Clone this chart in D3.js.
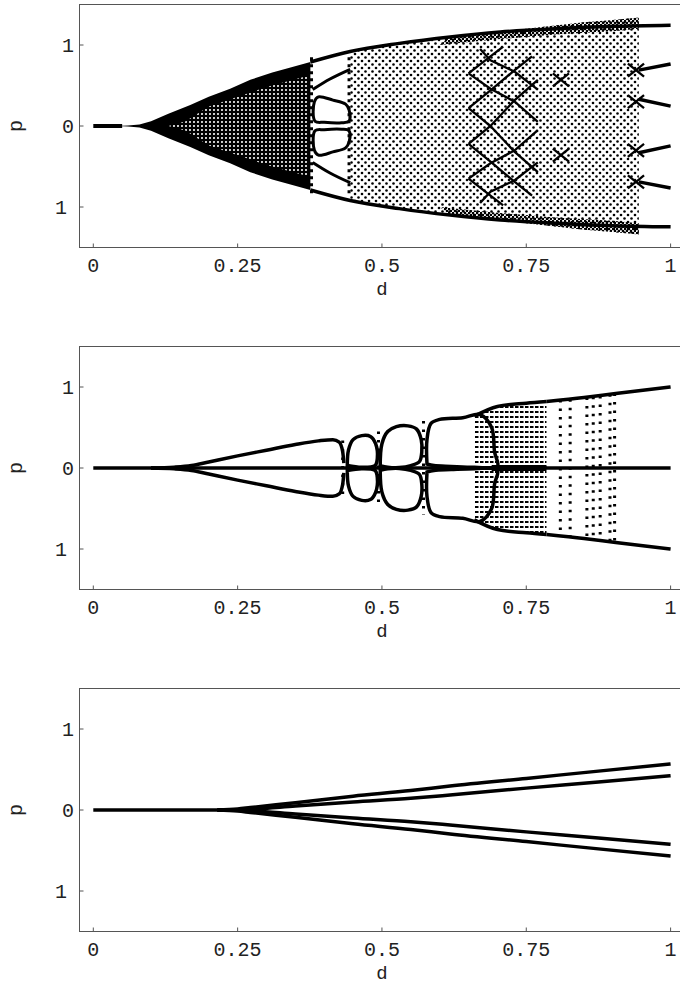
<!DOCTYPE html>
<html><head><meta charset="utf-8">
<script src="https://cdn.jsdelivr.net/npm/d3@7"></script>
<style>body{margin:0;background:#fff}svg{display:block}</style>
</head><body>
<svg id="c" width="680" height="985"></svg>
<script>
// ---------- axis data ----------
const xTicks = [0, 0.25, 0.5, 0.75, 1];
const xTickLabels = ["0", "0.25", "0.5", "0.75", "1"];
const yTicks = [-1, 0, 1];
const yTickLabels = ["1", "0", "1"]; // minus sign is not rendered in the original
const xLabel = "d", yLabel = "p";

// ---------- panel 1 ----------
const p1Stem = [[0, 0], [0.05, 0]];
const p1Env = [[0.04,0],[0.06,0.005],[0.08,0.02],[0.10,0.06],[0.13,0.15],[0.168,0.26],[0.20,0.36],[0.237,0.46],[0.272,0.57],[0.31,0.66],[0.34,0.72],[0.376,0.79],[0.41,0.86],[0.445,0.92],[0.49,0.97],[0.53,1.02],[0.575,1.06],[0.618,1.10],[0.66,1.13],[0.705,1.16],[0.75,1.2],[0.80,1.24],[0.85,1.28],[0.90,1.31],[0.945,1.34]];
const p1Lattice = [[0.13,0],[0.16,0.06],[0.2,0.24],[0.25,0.36],[0.3,0.48],[0.34,0.56],[0.372,0.62]];
const p1Band = [[0.376,0.79],[0.445,0.92],[0.53,1.02],[0.618,1.10],[0.705,1.16],[0.8,1.2],[0.9,1.23],[1.0,1.245]];
const p1BandInner = [[0.6,1.0],[0.7,1.07],[0.8,1.13],[0.9,1.17],[0.945,1.2]];
const p1Slant = [[0.38,0.45],[0.41,0.58],[0.445,0.70]];
const p1Cell = [[0.384,0.06],[0.383,0.3],[0.39,0.36],[0.415,0.32],[0.437,0.27],[0.443,0.2],[0.443,0.06],[0.43,0.04],[0.40,0.045]];
const p1Cols = [0.378, 0.443];
const p1Zig = [
  [[0.65,0.65],[0.688,0.86],[0.71,0.98]],
  [[0.65,0.22],[0.688,0.44],[0.73,0.69],[0.76,0.86]],
  [[0.65,-0.22],[0.688,0.0],[0.73,0.32],[0.77,0.57]],
  [[0.65,-0.65],[0.688,-0.46],[0.73,-0.3],[0.77,-0.05]],
  [[0.67,-0.95],[0.688,-0.81],[0.73,-0.67],[0.77,-0.45]]
];
const p1Cross = [[0.81,0.57],[0.81,-0.36],[0.94,0.69],[0.94,0.3],[0.94,-0.3],[0.94,-0.69]];
const p1Mid = [[0.945,0.69],[1.0,0.765]];
const p1In = [[0.945,0.33],[1.0,0.245]];

// ---------- panel 2 ----------
const p2Zero = [[0, 0], [1, 0]];
const p2ZeroThick = [[0.69, 0], [0.785, 0]];
const p2Branch = [[0.10,0],[0.14,0.01],[0.17,0.03],[0.20,0.075],[0.25,0.15],[0.30,0.22],[0.35,0.29],[0.39,0.335],[0.415,0.35],[0.426,0.32],[0.432,0.2],[0.434,0.06]];
const p2LobeB = [[0.44,0.03],[0.442,0.22],[0.45,0.35],[0.465,0.40],[0.48,0.39],[0.489,0.3],[0.492,0.12],[0.488,0.03],[0.465,0.008],[0.44,0.03]];
const p2LobeC = [[0.497,0.03],[0.50,0.3],[0.51,0.45],[0.525,0.51],[0.545,0.52],[0.56,0.48],[0.568,0.35],[0.569,0.2],[0.565,0.08],[0.55,0.03],[0.53,0.005],[0.51,0.01],[0.497,0.03]];
const p2LobeD = [[0.578,0.05],[0.578,0.35],[0.585,0.55],[0.6,0.6],[0.64,0.62],[0.67,0.66],[0.69,0.5],[0.695,0.2],[0.70,0.02],[0.66,0.01],[0.62,0.02],[0.59,0.03],[0.578,0.05]];
const p2Hatch = [[0.66,0.64],[0.70,0.76],[0.75,0.8],[0.785,0.82]];
const p2Outer = [[0.785,0.82],[0.85,0.87],[0.905,0.92],[1.0,1.0]];
const p2Columns = [0.432, 0.494, 0.572, 0.809, 0.826, 0.855, 0.866, 0.878, 0.895, 0.903];
const p2ColumnTop = [0.34, 0.45, 0.58, 0.84, 0.85, 0.87, 0.88, 0.89, 0.91, 0.92];

// ---------- panel 3 ----------
const p3Stem = [[0, 0], [0.22, 0]];
const p3Outer = [[0.215,0],[0.25,0.012],[0.272,0.03],[0.35,0.09],[0.45,0.17],[0.55,0.24],[0.618,0.296],[0.75,0.39],[0.875,0.48],[1,0.568]];
const p3Inner = [[0.215,0],[0.25,0.004],[0.272,0.01],[0.35,0.05],[0.45,0.1],[0.55,0.145],[0.618,0.185],[0.75,0.27],[0.875,0.345],[1,0.424]];

// ---------- drawing ----------
const svg = d3.select("#c");
const x = d3.scaleLinear().domain([0, 1]).range([93.3, 670.6]);
const mirror = a => a.map(([d, p]) => [d, -p]);
const FONT = "'Liberation Mono','Courier New',monospace";

const defs = svg.append("defs");
const lat = defs.append("pattern").attr("id","lattice").attr("patternUnits","userSpaceOnUse").attr("width",4).attr("height",4);
lat.append("rect").attr("width",4).attr("height",4).attr("fill","#000");
lat.append("circle").attr("cx",2).attr("cy",2).attr("r",1.05).attr("fill","#fff");
const dots = defs.append("pattern").attr("id","dots").attr("patternUnits","userSpaceOnUse").attr("width",7).attr("height",7);
dots.append("circle").attr("cx",1.5).attr("cy",1.5).attr("r",1.3).attr("fill","#000");
dots.append("circle").attr("cx",5).attr("cy",5).attr("r",1.3).attr("fill","#000");
const dense = defs.append("pattern").attr("id","dense").attr("patternUnits","userSpaceOnUse").attr("width",4).attr("height",4);
dense.append("circle").attr("cx",1).attr("cy",1).attr("r",1.3).attr("fill","#000");
dense.append("circle").attr("cx",3).attr("cy",3).attr("r",1.3).attr("fill","#000");
const dash = defs.append("pattern").attr("id","dash").attr("patternUnits","userSpaceOnUse").attr("width",5).attr("height",5);
dash.append("rect").attr("x",0).attr("y",1).attr("width",3.5).attr("height",2).attr("fill","#000");

function panel(top) {
  const g = svg.append("g");
  const y = d3.scaleLinear().domain([-1.5, 1.5]).range([top + 243, top]);
  const line = d3.line().x(d => x(d[0])).y(d => y(d[1])).curve(d3.curveMonotoneX);
  const poly = d3.line().x(d => x(d[0])).y(d => y(d[1]));
  const loop = d3.line().x(d => x(d[0])).y(d => y(d[1])).curve(d3.curveCatmullRomClosed);
  const band = (upper, lower) => {
    const pts = upper.concat(lower.slice().reverse());
    return d3.line().x(d => x(d[0])).y(d => y(d[1])).curve(d3.curveLinearClosed)(pts);
  };
  return {g, y, line, poly, loop, band, top};
}

function frame(P, labelGap) {
  const {g, y} = P;
  const yb = y(-1.5), yt = y(1.5);
  g.append("rect").attr("x", 79.5).attr("y", yt).attr("width", 620).attr("height", yb - yt)
    .attr("fill", "none").attr("stroke", "#555").attr("stroke-width", 1);
  xTicks.forEach((t, i) => {
    g.append("line").attr("x1", x(t)).attr("x2", x(t)).attr("y1", yb).attr("y2", yb - 4).attr("stroke", "#555");
    g.append("text").attr("x", x(t)).attr("y", yb + 17).attr("dy", "0.36em").attr("text-anchor", "middle")
      .attr("font-family", FONT).attr("font-size", 20).attr("fill", "#222").text(xTickLabels[i]);
  });
  yTicks.forEach((t, i) => {
    g.append("line").attr("x1", 79.5).attr("x2", 83.5).attr("y1", y(t)).attr("y2", y(t)).attr("stroke", "#555");
    g.append("text").attr("x", t < 0 ? 67 : 74).attr("y", y(t)).attr("dy", "0.36em").attr("text-anchor", "end")
      .attr("font-family", FONT).attr("font-size", 20).attr("fill", "#222").text(yTickLabels[i]);
  });
  g.append("text").attr("x", x(0.5)).attr("y", yb + labelGap).attr("text-anchor", "middle")
    .attr("font-family", FONT).attr("font-size", 19).attr("fill", "#222").text(xLabel);
  g.append("text").attr("transform", `translate(16,${y(0)}) rotate(-90)`).attr("dy", "0.3em").attr("text-anchor", "middle")
    .attr("font-family", FONT).attr("font-size", 20).attr("fill", "#222").text(yLabel);
}

const stroke = (g, d, w) => g.append("path").attr("d", d).attr("stroke", "#000").attr("stroke-width", w).attr("fill", "none");

// Panel 1
{
  const P = panel(4.5); const {g, y, line, poly, loop, band} = P;
  stroke(g, line(p1Stem), 4);
  const wedge = p1Env.filter(d => d[0] <= 0.376);
  g.append("path").attr("d", band(wedge, mirror(wedge))).attr("fill", "#000");
  g.append("path").attr("d", band(p1Lattice, mirror(p1Lattice))).attr("fill", "url(#lattice)");
  const cloud = p1Env.filter(d => d[0] >= 0.445);
  g.append("path").attr("d", band(cloud, mirror(cloud))).attr("fill", "url(#dots)");
  const envBand = p1Env.filter(d => d[0] >= 0.6);
  g.append("path").attr("d", band(envBand, p1BandInner)).attr("fill", "url(#dense)");
  g.append("path").attr("d", band(mirror(envBand), mirror(p1BandInner))).attr("fill", "url(#dense)");
  [p1Band, mirror(p1Band), p1Mid, mirror(p1Mid), p1In, mirror(p1In)].forEach(a => stroke(g, line(a), 3.5));
  [p1Slant, mirror(p1Slant)].forEach(a => stroke(g, line(a), 3));
  [p1Cell, mirror(p1Cell)].forEach(a => stroke(g, loop(a), 3));
  p1Cols.forEach(c => g.append("line").attr("x1", x(c)).attr("x2", x(c)).attr("y1", y(0.85)).attr("y2", y(-0.85))
    .attr("stroke", "#000").attr("stroke-width", 3).attr("stroke-dasharray", "3,4"));
  p1Zig.forEach(a => { stroke(g, poly(a), 2.3); stroke(g, poly(mirror(a)), 2.3); });
  const dx = 0.014, dp = 0.08;
  p1Cross.forEach(([d, p]) => {
    stroke(g, poly([[d - dx, p - dp], [d + dx, p + dp]]), 2.3);
    stroke(g, poly([[d - dx, p + dp], [d + dx, p - dp]]), 2.3);
  });
  frame(P, 47);
}
// Panel 2
{
  const P = panel(346.5); const {g, y, line, loop, band} = P;
  g.append("path").attr("d", band(p2Hatch, mirror(p2Hatch))).attr("fill", "url(#dash)");
  stroke(g, line(p2Zero), 3.5);
  stroke(g, line(p2ZeroThick), 6);
  [p2Branch, mirror(p2Branch), p2Hatch, mirror(p2Hatch), p2Outer, mirror(p2Outer)].forEach(a => stroke(g, line(a), 3.5));
  [p2LobeB, mirror(p2LobeB), p2LobeC, mirror(p2LobeC), p2LobeD, mirror(p2LobeD)].forEach(a => stroke(g, loop(a), 3.5));
  p2Columns.forEach((c, i) => g.append("line").attr("x1", x(c)).attr("x2", x(c))
    .attr("y1", y(p2ColumnTop[i])).attr("y2", y(-p2ColumnTop[i]))
    .attr("stroke", "#000").attr("stroke-width", 3).attr("stroke-dasharray", "2.5,6"));
  frame(P, 47);
}
// Panel 3
{
  const P = panel(688.5); const {g, line} = P;
  [p3Stem, p3Outer, mirror(p3Outer), p3Inner, mirror(p3Inner)].forEach(a => stroke(g, line(a), 3.5));
  frame(P, 47);
}
</script>
</body></html>
